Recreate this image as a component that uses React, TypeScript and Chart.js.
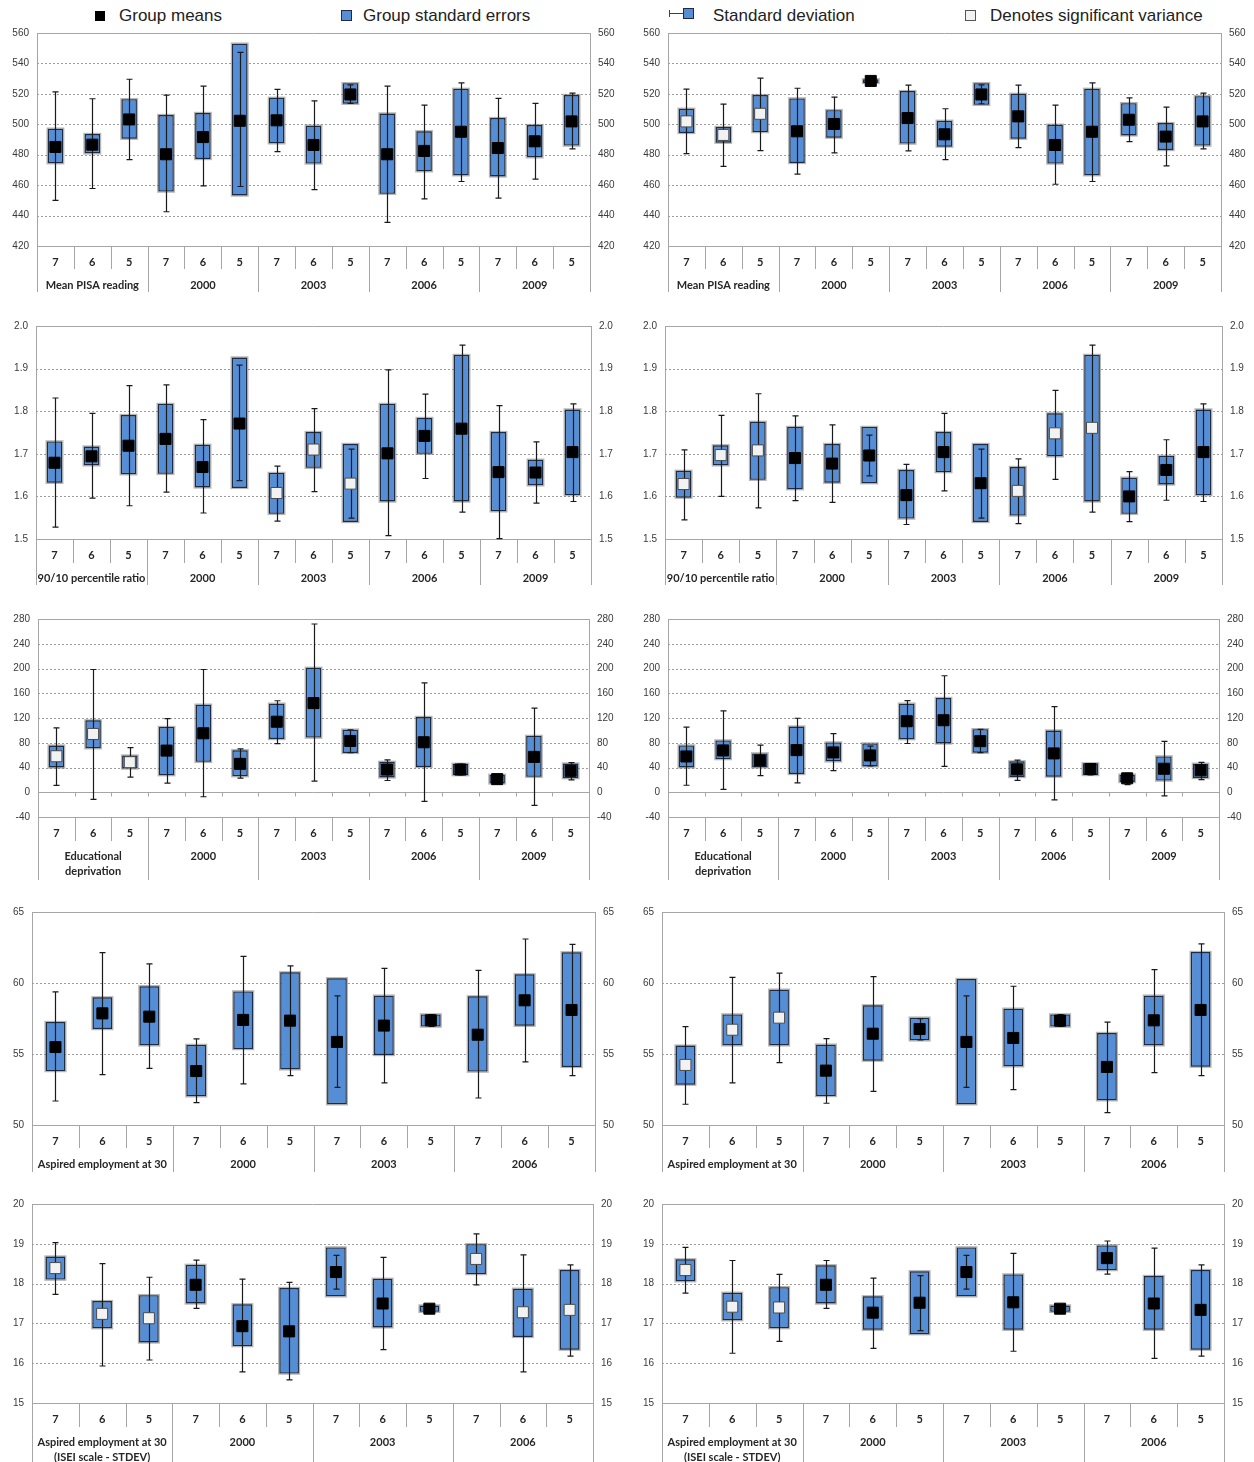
import React, { useEffect, useRef } from "react";
import { Chart, registerables } from "chart.js";

Chart.register(...registerables);

// ---- category labels ----
const cohorts15 = ["7", "6", "5", "7", "6", "5", "7", "6", "5", "7", "6", "5", "7", "6", "5"];
const cohorts12 = ["7", "6", "5", "7", "6", "5", "7", "6", "5", "7", "6", "5"];
const readingGroups = [["Mean PISA reading"], ["2000"], ["2003"], ["2006"], ["2009"]];
const ratioGroups = [["90/10 percentile ratio"], ["2000"], ["2003"], ["2006"], ["2009"]];
const deprivationGroups = [["Educational", "deprivation"], ["2000"], ["2003"], ["2006"], ["2009"]];
const aspireGroups = [["Aspired employment at 30"], ["2000"], ["2003"], ["2006"]];
const iseiGroups = [["Aspired employment at 30", "(ISEI scale - STDEV)"], ["2000"], ["2003"], ["2006"]];

// ---- Mean PISA reading (left) ----
const readingLeftMean = [485.1, 486.6, 503.2, 480.3, 491.6, 502.3, 502.6, 486.4, 519.6, 480.3, 482.5, 495.1, 484.4, 488.8, 501.9];
const readingLeftSeLow = [474.4, 480.9, 490.5, 455.8, 477.2, 453.2, 487.5, 474.2, 513.5, 454.3, 469.1, 466.5, 465.7, 478.3, 486.0];
const readingLeftSeHigh = [497.1, 493.6, 516.5, 506.1, 507.4, 553.0, 517.4, 499.1, 527.0, 507.1, 495.4, 523.3, 504.1, 499.5, 519.2];
const readingLeftSdLow = [450.0, 457.8, 476.8, 442.5, 459.5, 459.1, 482.0, 457.1, 513.7, 435.5, 451.0, 462.4, 451.5, 463.9, 483.8];
const readingLeftSdHigh = [521.3, 516.8, 529.6, 519.2, 525.1, 547.3, 522.9, 515.4, 525.9, 525.1, 512.6, 527.2, 517.0, 513.7, 520.5];
const readingLeftSignificant = [false, false, false, false, false, false, false, false, false, false, false, false, false, false, false];

// ---- Mean PISA reading (right) ----
const readingRightMean = [501.9, 493.0, 506.9, 495.4, 500.2, 528.5, 504.1, 493.4, 519.6, 505.2, 486.4, 495.1, 503.0, 491.9, 501.9];
const readingRightSeLow = [494.3, 487.9, 494.9, 474.6, 491.2, 527.2, 487.3, 485.3, 512.8, 490.5, 474.2, 466.5, 492.7, 483.1, 486.0];
const readingRightSeHigh = [510.2, 498.2, 519.2, 517.0, 509.3, 529.6, 521.8, 502.3, 527.0, 520.0, 499.7, 523.3, 513.9, 500.8, 518.5];
const readingRightSdLow = [480.7, 472.4, 482.7, 467.2, 481.2, 527.5, 482.5, 476.8, 513.5, 484.7, 460.6, 462.4, 488.6, 472.6, 483.8];
const readingRightSdHigh = [523.1, 513.3, 530.3, 523.7, 517.8, 529.5, 525.7, 510.2, 525.9, 525.7, 512.6, 527.2, 517.4, 511.3, 520.5];
const readingRightSignificant = [true, true, true, false, false, false, false, false, false, false, false, false, false, false, false];

// ---- 90/10 percentile ratio (left) ----
const ratioLeftMean = [1.679, 1.694, 1.719, 1.735, 1.669, 1.771, 1.608, 1.710, 1.630, 1.701, 1.742, 1.759, 1.657, 1.656, 1.704];
const ratioLeftSeLow = [1.632, 1.673, 1.652, 1.653, 1.621, 1.620, 1.559, 1.667, 1.540, 1.588, 1.700, 1.588, 1.565, 1.626, 1.603];
const ratioLeftSeHigh = [1.729, 1.717, 1.791, 1.817, 1.721, 1.926, 1.655, 1.751, 1.723, 1.817, 1.784, 1.932, 1.751, 1.686, 1.804];
const ratioLeftSdLow = [1.528, 1.596, 1.578, 1.610, 1.561, 1.637, 1.542, 1.611, 1.549, 1.508, 1.642, 1.563, 1.501, 1.584, 1.588];
const ratioLeftSdHigh = [1.831, 1.795, 1.860, 1.862, 1.780, 1.908, 1.671, 1.806, 1.711, 1.897, 1.840, 1.955, 1.813, 1.728, 1.817];
const ratioLeftSignificant = [false, false, false, false, false, false, true, true, true, false, false, false, false, false, false];

// ---- 90/10 percentile ratio (right) ----
const ratioRightMean = [1.629, 1.697, 1.708, 1.690, 1.677, 1.696, 1.603, 1.704, 1.631, 1.613, 1.748, 1.761, 1.600, 1.662, 1.704];
const ratioRightSeLow = [1.597, 1.673, 1.639, 1.617, 1.632, 1.631, 1.548, 1.657, 1.540, 1.555, 1.694, 1.588, 1.559, 1.628, 1.603];
const ratioRightSeHigh = [1.660, 1.720, 1.775, 1.763, 1.723, 1.763, 1.662, 1.751, 1.723, 1.669, 1.795, 1.932, 1.644, 1.695, 1.804];
const ratioRightSdLow = [1.545, 1.600, 1.573, 1.590, 1.586, 1.648, 1.534, 1.613, 1.549, 1.536, 1.640, 1.563, 1.541, 1.591, 1.588];
const ratioRightSdHigh = [1.709, 1.790, 1.841, 1.789, 1.768, 1.744, 1.675, 1.795, 1.711, 1.688, 1.849, 1.955, 1.658, 1.733, 1.817];
const ratioRightSignificant = [true, true, true, false, false, false, false, false, false, true, true, true, false, false, false];

// ---- Educational deprivation (left) ----
const deprivationLeftMean = [58.2, 94.2, 48.6, 67.3, 95.3, 45.9, 114.0, 144.1, 82.9, 36.7, 80.8, 36.7, 21.2, 57.1, 34.6];
const deprivationLeftSeLow = [40.0, 71.1, 38.4, 27.6, 49.1, 26.0, 86.1, 88.3, 63.6, 23.9, 41.0, 27.6, 14.2, 24.9, 22.8];
const deprivationLeftSeHigh = [75.4, 116.2, 59.3, 105.5, 141.5, 67.9, 143.1, 201.1, 101.2, 49.1, 121.6, 45.9, 28.1, 91.0, 46.4];
const deprivationLeftSdLow = [11.0, -11.6, 24.4, 14.7, -7.3, 22.8, 78.6, 17.9, 64.0, 19.0, -14.8, 28.0, 14.5, -21.3, 20.1];
const deprivationLeftSdHigh = [103.9, 198.4, 72.2, 118.9, 198.4, 70.0, 147.9, 271.9, 101.0, 52.3, 176.9, 45.5, 28.0, 136.1, 48.0];
const deprivationLeftSignificant = [true, true, true, false, false, false, false, false, false, false, false, false, false, false, false];

// ---- Educational deprivation (right) ----
const deprivationRightMean = [57.9, 67.6, 51.5, 68.1, 64.4, 59.5, 114.8, 116.4, 82.6, 37.0, 62.8, 37.5, 22.5, 38.0, 35.4];
const deprivationRightSeLow = [40.2, 53.6, 40.2, 29.5, 49.9, 41.8, 85.8, 78.8, 63.8, 24.7, 25.2, 27.9, 16.6, 18.8, 23.1];
const deprivationRightSeHigh = [75.6, 83.7, 62.8, 106.2, 80.5, 78.9, 143.2, 152.3, 101.9, 49.9, 99.8, 46.7, 28.4, 57.9, 46.1];
const deprivationRightSdLow = [11.3, 4.8, 26.8, 15.0, 34.9, 42.4, 78.8, 41.8, 64.0, 19.3, -12.3, 28.2, 12.3, -5.9, 20.4];
const deprivationRightSdHigh = [105.1, 131.4, 76.2, 119.6, 94.9, 74.6, 148.0, 188.3, 101.5, 52.0, 138.4, 46.4, 30.6, 82.1, 48.3];
const deprivationRightSignificant = [false, false, false, false, false, false, false, false, false, false, false, false, false, false, false];

// ---- Aspired employment at 30 (left) ----
const aspireLeftMean = [55.49, 57.86, 57.63, 53.80, 57.40, 57.35, 55.85, 57.00, 57.37, 56.36, 58.78, 58.10];
const aspireLeftSeLow = [53.80, 56.76, 55.61, 52.02, 55.35, 53.92, 51.46, 54.93, 56.93, 53.76, 56.99, 54.09];
const aspireLeftSeHigh = [57.25, 58.99, 59.77, 55.64, 59.41, 60.75, 60.33, 59.11, 57.79, 59.06, 60.61, 62.16];
const aspireLeftSdLow = [51.69, 53.55, 53.99, 51.58, 52.89, 53.48, 52.65, 52.96, 56.95, 51.90, 54.44, 53.48];
const aspireLeftSdHigh = [59.37, 62.14, 61.34, 56.06, 61.88, 61.20, 59.09, 61.03, 57.77, 60.89, 63.10, 62.72];
const aspireLeftSignificant = [false, false, false, false, false, false, false, false, false, false, false, false];

// ---- Aspired employment at 30 (right) ----
const aspireRightMean = [54.23, 56.71, 57.56, 53.83, 56.43, 56.76, 55.85, 56.13, 57.35, 54.09, 57.37, 58.10];
const aspireRightSeLow = [52.84, 55.61, 55.61, 52.04, 54.53, 55.96, 51.46, 54.13, 56.93, 51.74, 55.61, 54.11];
const aspireRightSeHigh = [55.59, 57.79, 59.53, 55.66, 58.43, 57.56, 60.28, 58.19, 57.79, 56.48, 59.11, 62.18];
const aspireRightSdLow = [51.46, 52.96, 54.39, 51.53, 52.37, 55.99, 52.65, 52.49, 56.95, 50.87, 53.69, 53.48];
const aspireRightSdHigh = [56.93, 60.40, 60.70, 56.08, 60.45, 57.49, 59.09, 59.77, 57.77, 57.25, 60.94, 62.75];
const aspireRightSignificant = [true, true, true, false, false, false, false, false, false, false, false, false];

// ---- Aspired employment at 30, ISEI scale STDEV (left) ----
const iseiLeftMean = [18.39, 17.24, 17.13, 17.97, 16.93, 16.80, 18.29, 17.50, 17.37, 18.62, 17.28, 17.34];
const iseiLeftSeLow = [18.10, 16.88, 16.52, 17.50, 16.43, 15.74, 17.68, 16.90, 17.29, 18.24, 16.66, 16.34];
const iseiLeftSeHigh = [18.68, 17.56, 17.71, 18.47, 17.48, 17.89, 18.91, 18.12, 17.45, 18.99, 17.87, 18.34];
const iseiLeftSdLow = [17.73, 15.93, 16.08, 17.38, 15.78, 15.58, 17.86, 16.34, 17.30, 17.97, 15.78, 16.18];
const iseiLeftSdHigh = [19.03, 18.50, 18.16, 18.59, 18.11, 18.03, 18.71, 18.66, 17.44, 19.25, 18.72, 18.47];
const iseiLeftSignificant = [true, true, true, false, false, false, false, false, false, true, true, true];

// ---- Aspired employment at 30, ISEI scale STDEV (right) ----
const iseiRightMean = [18.34, 17.42, 17.40, 17.97, 17.27, 17.52, 18.29, 17.53, 17.37, 18.64, 17.50, 17.34];
const iseiRightSeLow = [18.06, 17.08, 16.88, 17.50, 16.84, 16.73, 17.68, 16.84, 17.29, 18.34, 16.84, 16.34];
const iseiRightSeHigh = [18.61, 17.77, 17.91, 18.46, 17.68, 18.31, 18.91, 18.23, 17.45, 18.96, 18.19, 18.34];
const iseiRightSdLow = [17.76, 16.25, 16.55, 17.38, 16.37, 16.82, 17.86, 16.30, 17.30, 18.24, 16.12, 16.18];
const iseiRightSdHigh = [18.91, 18.58, 18.23, 18.58, 18.14, 18.20, 18.71, 18.76, 17.44, 19.07, 18.89, 18.47];
const iseiRightSignificant = [true, true, true, false, false, false, false, false, false, false, false, false];

// ---- shared styling ----
const AXIS_COLOR = "#a6a6a6";
const GRID_COLOR = "#9c9c9c";
const BOX_FILL = "#558ed5";
const BOX_EDGE = "#1d2b44";
const WHISKER = "#1a1a1a";
const TICK_FONT = { family: "'Liberation Sans', Arial, sans-serif", size: 10 };
const CAT_FONT = "bold 11px Lato, 'Liberation Sans', sans-serif";

type PanelSpec = {
  labels: string[];
  groups: string[][];
  mean: number[];
  seLow: number[];
  seHigh: number[];
  sdLow: number[];
  sdHigh: number[];
  significant: boolean[];
  min: number;
  max: number;
  step: number;
  decimals: number;
  canvasLeft: number;
  left: number;
  right: number;
  top: number;
  bottom: number;
  shortTick: number;
  longTick: number;
};

const CANVAS_W = 627;
// top padding kept above the y-axis label overflow (half label height + tick padding)
const TOP_PAD = 16;

function BoxPanel({ spec }: { spec: PanelSpec }) {
  const ref = useRef<HTMLCanvasElement | null>(null);
  const canvasTop = spec.top - TOP_PAD;
  const canvasH = spec.bottom + spec.longTick + 3 - canvasTop;
  const xHeight = canvasH - (spec.bottom - canvasTop);
  const leftW = spec.left - spec.canvasLeft;
  const rightW = spec.canvasLeft + CANVAS_W - spec.right;

  useEffect(() => {
    if (!ref.current) return;
    const n = spec.labels.length;

    const decor = {
      id: "boxPlotDecor",
      beforeDatasetsDraw(chart: any) {
        const { ctx, chartArea: a, scales } = chart;
        const y = scales.y;
        const x = scales.x;
        ctx.save();
        // dotted horizontal gridlines
        ctx.strokeStyle = GRID_COLOR;
        ctx.lineWidth = 1;
        ctx.setLineDash([2, 2]);
        for (const t of y.ticks) {
          if (t.value <= spec.min || t.value >= spec.max) continue;
          if (t.value === 0 && spec.min < 0) continue;
          const py = Math.round(y.getPixelForValue(t.value)) + 0.5;
          ctx.beginPath();
          ctx.moveTo(a.left, py);
          ctx.lineTo(a.right, py);
          ctx.stroke();
        }
        ctx.setLineDash([]);
        ctx.strokeStyle = AXIS_COLOR;
        // plot frame top edge
        const ty = Math.round(a.top) + 0.5;
        ctx.beginPath();
        ctx.moveTo(a.left, ty);
        ctx.lineTo(a.right, ty);
        ctx.stroke();
        // category axis crossing at zero
        if (spec.min < 0) {
          const zy = Math.round(y.getPixelForValue(0)) + 0.5;
          ctx.beginPath();
          ctx.moveTo(a.left, zy);
          ctx.lineTo(a.right, zy);
          for (let i = 1; i < n; i++) {
            const bx = Math.round(x.getPixelForValue(i - 0.5)) + 0.5;
            ctx.moveTo(bx, zy);
            ctx.lineTo(bx, zy + 4);
          }
          ctx.stroke();
        }
        ctx.restore();
      },
      beforeDatasetDraw(chart: any, args: any) {
        if (args.index !== 1) return;
        // soft grey halo behind each standard-error box
        const { ctx } = chart;
        ctx.save();
        ctx.fillStyle = "rgba(120,120,120,0.55)";
        for (const el of args.meta.data) {
          const top = Math.min(el.y, el.base);
          const h = Math.abs(el.base - el.y);
          ctx.fillRect(el.x - el.width / 2 - 1.2, top - 1.2, el.width + 2.4, h + 2.4);
        }
        ctx.restore();
      },
      afterDatasetDraw(chart: any, args: any) {
        if (args.index !== 1) return;
        // standard-deviation whiskers, over the boxes and under the means
        const { ctx, scales } = chart;
        const x = scales.x;
        const y = scales.y;
        ctx.save();
        ctx.strokeStyle = WHISKER;
        ctx.lineWidth = 1.2;
        for (let i = 0; i < n; i++) {
          const cx = Math.round(x.getPixelForValue(i)) + 0.5;
          const yt = y.getPixelForValue(spec.sdHigh[i]);
          const yb = y.getPixelForValue(spec.sdLow[i]);
          ctx.beginPath();
          ctx.moveTo(cx, yt);
          ctx.lineTo(cx, yb);
          ctx.moveTo(cx - 3, yt);
          ctx.lineTo(cx + 3, yt);
          ctx.moveTo(cx - 3, yb);
          ctx.lineTo(cx + 3, yb);
          ctx.stroke();
        }
        ctx.restore();
      },
      afterDraw(chart: any) {
        const { ctx, chartArea: a, scales } = chart;
        const x = scales.x;
        ctx.save();
        // separators of the two-level category axis
        ctx.strokeStyle = AXIS_COLOR;
        ctx.lineWidth = 1;
        ctx.beginPath();
        for (let i = 0; i <= n; i++) {
          const bx = Math.round(x.getPixelForValue(i - 0.5)) + 0.5;
          const len = i % 3 === 0 ? spec.longTick : spec.shortTick;
          ctx.moveTo(bx, a.bottom);
          ctx.lineTo(bx, a.bottom + len);
        }
        ctx.stroke();
        // cohort and group labels
        ctx.fillStyle = "#262626";
        ctx.font = CAT_FONT;
        ctx.textAlign = "center";
        ctx.textBaseline = "middle";
        for (let i = 0; i < n; i++) {
          ctx.fillText(spec.labels[i], x.getPixelForValue(i), a.bottom + 16);
        }
        spec.groups.forEach((lines, g) => {
          const gx = x.getPixelForValue(g * 3 + 1);
          lines.forEach((line, k) => {
            ctx.fillText(line, gx, a.bottom + 39 + k * 15);
          });
        });
        ctx.restore();
      },
    };

    const tickCallback = (v: any) => Number(v).toFixed(spec.decimals);
    const yCommon = {
      min: spec.min,
      max: spec.max,
      grid: { display: false, drawTicks: false },
      border: { display: true, color: AXIS_COLOR, width: 1 },
      ticks: { stepSize: spec.step, padding: 8, color: "#3a3a3a", font: TICK_FONT, callback: tickCallback },
    };

    const chart = new Chart(ref.current, {
      type: "bar",
      data: {
        labels: spec.labels,
        datasets: [
          {
            type: "line",
            label: "Group means",
            data: spec.mean,
            showLine: false,
            pointStyle: "rect",
            pointRadius: 7.8,
            pointHoverRadius: 7.8,
            pointBackgroundColor: spec.significant.map((s) => (s ? "#f2f2f2" : "#000000")),
            pointBorderColor: spec.significant.map((s) => (s ? "#4a4a4a" : "#000000")),
            pointBorderWidth: 1,
          } as any,
          {
            type: "bar",
            label: "Group standard errors",
            data: spec.seLow.map((lo, i) => [lo, spec.seHigh[i]]),
            backgroundColor: BOX_FILL,
            borderColor: BOX_EDGE,
            borderWidth: 1.4,
            borderSkipped: false,
            barPercentage: 0.42,
            categoryPercentage: 1,
            grouped: false,
          } as any,
        ],
      },
      options: {
        responsive: false,
        animation: false,
        events: [],
        layout: { padding: { top: TOP_PAD, left: 0, right: 0, bottom: 0 }, autoPadding: false },
        plugins: { legend: { display: false }, tooltip: { enabled: false } },
        scales: {
          x: {
            offset: true,
            grid: { display: false, drawTicks: false },
            border: { display: true, color: AXIS_COLOR, width: 1 },
            ticks: { display: false },
            afterFit: (s: any) => {
              s.height = xHeight;
            },
          },
          y: {
            ...yCommon,
            position: "left",
            afterFit: (s: any) => {
              s.width = leftW;
            },
          },
          y2: {
            ...yCommon,
            position: "right",
            afterFit: (s: any) => {
              s.width = rightW;
            },
          },
        } as any,
      },
      plugins: [decor],
    });
    return () => chart.destroy();
  }, [spec]);

  return (
    <canvas
      ref={ref}
      width={CANVAS_W}
      height={canvasH}
      style={{ position: "absolute", left: spec.canvasLeft, top: canvasTop, width: CANVAS_W, height: canvasH }}
    />
  );
}

const panels: PanelSpec[] = [
  {
    labels: cohorts15, groups: readingGroups, mean: readingLeftMean, seLow: readingLeftSeLow, seHigh: readingLeftSeHigh,
    sdLow: readingLeftSdLow, sdHigh: readingLeftSdHigh, significant: readingLeftSignificant,
    min: 420, max: 560, step: 20, decimals: 0, canvasLeft: 0, left: 37, right: 590, top: 33, bottom: 246, shortTick: 23, longTick: 46,
  },
  {
    labels: cohorts15, groups: readingGroups, mean: readingRightMean, seLow: readingRightSeLow, seHigh: readingRightSeHigh,
    sdLow: readingRightSdLow, sdHigh: readingRightSdHigh, significant: readingRightSignificant,
    min: 420, max: 560, step: 20, decimals: 0, canvasLeft: 627, left: 668, right: 1221, top: 33, bottom: 246, shortTick: 23, longTick: 46,
  },
  {
    labels: cohorts15, groups: ratioGroups, mean: ratioLeftMean, seLow: ratioLeftSeLow, seHigh: ratioLeftSeHigh,
    sdLow: ratioLeftSdLow, sdHigh: ratioLeftSdHigh, significant: ratioLeftSignificant,
    min: 1.5, max: 2.0, step: 0.1, decimals: 1, canvasLeft: 0, left: 36, right: 591, top: 326, bottom: 539, shortTick: 24, longTick: 46,
  },
  {
    labels: cohorts15, groups: ratioGroups, mean: ratioRightMean, seLow: ratioRightSeLow, seHigh: ratioRightSeHigh,
    sdLow: ratioRightSdLow, sdHigh: ratioRightSdHigh, significant: ratioRightSignificant,
    min: 1.5, max: 2.0, step: 0.1, decimals: 1, canvasLeft: 627, left: 665, right: 1222, top: 326, bottom: 539, shortTick: 24, longTick: 46,
  },
  {
    labels: cohorts15, groups: deprivationGroups, mean: deprivationLeftMean, seLow: deprivationLeftSeLow, seHigh: deprivationLeftSeHigh,
    sdLow: deprivationLeftSdLow, sdHigh: deprivationLeftSdHigh, significant: deprivationLeftSignificant,
    min: -40, max: 280, step: 40, decimals: 0, canvasLeft: 0, left: 38, right: 589, top: 619, bottom: 817, shortTick: 24, longTick: 63,
  },
  {
    labels: cohorts15, groups: deprivationGroups, mean: deprivationRightMean, seLow: deprivationRightSeLow, seHigh: deprivationRightSeHigh,
    sdLow: deprivationRightSdLow, sdHigh: deprivationRightSdHigh, significant: deprivationRightSignificant,
    min: -40, max: 280, step: 40, decimals: 0, canvasLeft: 627, left: 668, right: 1219, top: 619, bottom: 817, shortTick: 24, longTick: 63,
  },
  {
    labels: cohorts12, groups: aspireGroups, mean: aspireLeftMean, seLow: aspireLeftSeLow, seHigh: aspireLeftSeHigh,
    sdLow: aspireLeftSdLow, sdHigh: aspireLeftSdHigh, significant: aspireLeftSignificant,
    min: 50, max: 65, step: 5, decimals: 0, canvasLeft: 0, left: 32, right: 595, top: 912, bottom: 1125, shortTick: 23, longTick: 47,
  },
  {
    labels: cohorts12, groups: aspireGroups, mean: aspireRightMean, seLow: aspireRightSeLow, seHigh: aspireRightSeHigh,
    sdLow: aspireRightSdLow, sdHigh: aspireRightSdHigh, significant: aspireRightSignificant,
    min: 50, max: 65, step: 5, decimals: 0, canvasLeft: 627, left: 662, right: 1224, top: 912, bottom: 1125, shortTick: 23, longTick: 47,
  },
  {
    labels: cohorts12, groups: iseiGroups, mean: iseiLeftMean, seLow: iseiLeftSeLow, seHigh: iseiLeftSeHigh,
    sdLow: iseiLeftSdLow, sdHigh: iseiLeftSdHigh, significant: iseiLeftSignificant,
    min: 15, max: 20, step: 1, decimals: 0, canvasLeft: 0, left: 32, right: 593, top: 1204, bottom: 1403, shortTick: 24, longTick: 59,
  },
  {
    labels: cohorts12, groups: iseiGroups, mean: iseiRightMean, seLow: iseiRightSeLow, seHigh: iseiRightSeHigh,
    sdLow: iseiRightSdLow, sdHigh: iseiRightSdHigh, significant: iseiRightSignificant,
    min: 15, max: 20, step: 1, decimals: 0, canvasLeft: 627, left: 662, right: 1224, top: 1204, bottom: 1403, shortTick: 24, longTick: 59,
  },
];

const legendText: React.CSSProperties = {
  position: "absolute",
  top: 6,
  font: "17px 'Liberation Sans', Arial, sans-serif",
  lineHeight: "20px",
  color: "#222222",
  whiteSpace: "nowrap",
};

function Legend() {
  return (
    <>
      <div style={{ position: "absolute", left: 95, top: 11, width: 10, height: 10, background: "#000" }} />
      <span style={{ ...legendText, left: 119 }}>Group means</span>

      <div style={{ position: "absolute", left: 341, top: 10, width: 9, height: 9, background: BOX_FILL, border: `1px solid ${BOX_EDGE}` }} />
      <span style={{ ...legendText, left: 363 }}>Group standard errors</span>

      <div style={{ position: "absolute", left: 669, top: 10, width: 1, height: 7, background: "#404040" }} />
      <div style={{ position: "absolute", left: 669, top: 13, width: 15, height: 1, background: "#404040" }} />
      <div style={{ position: "absolute", left: 683, top: 8, width: 9, height: 9, background: BOX_FILL, border: `1px solid ${BOX_EDGE}` }} />
      <span style={{ ...legendText, left: 713 }}>Standard deviation</span>

      <div style={{ position: "absolute", left: 965, top: 10, width: 9, height: 9, background: "#f2f2f2", border: "1px solid #555" }} />
      <span style={{ ...legendText, left: 990 }}>Denotes significant variance</span>
    </>
  );
}

export default function App() {
  return (
    <div style={{ position: "absolute", left: 0, top: 0, width: 1254, height: 1462, background: "#ffffff", overflow: "hidden" }}>
      <Legend />
      {panels.map((p, i) => (
        <BoxPanel key={i} spec={p} />
      ))}
    </div>
  );
}
